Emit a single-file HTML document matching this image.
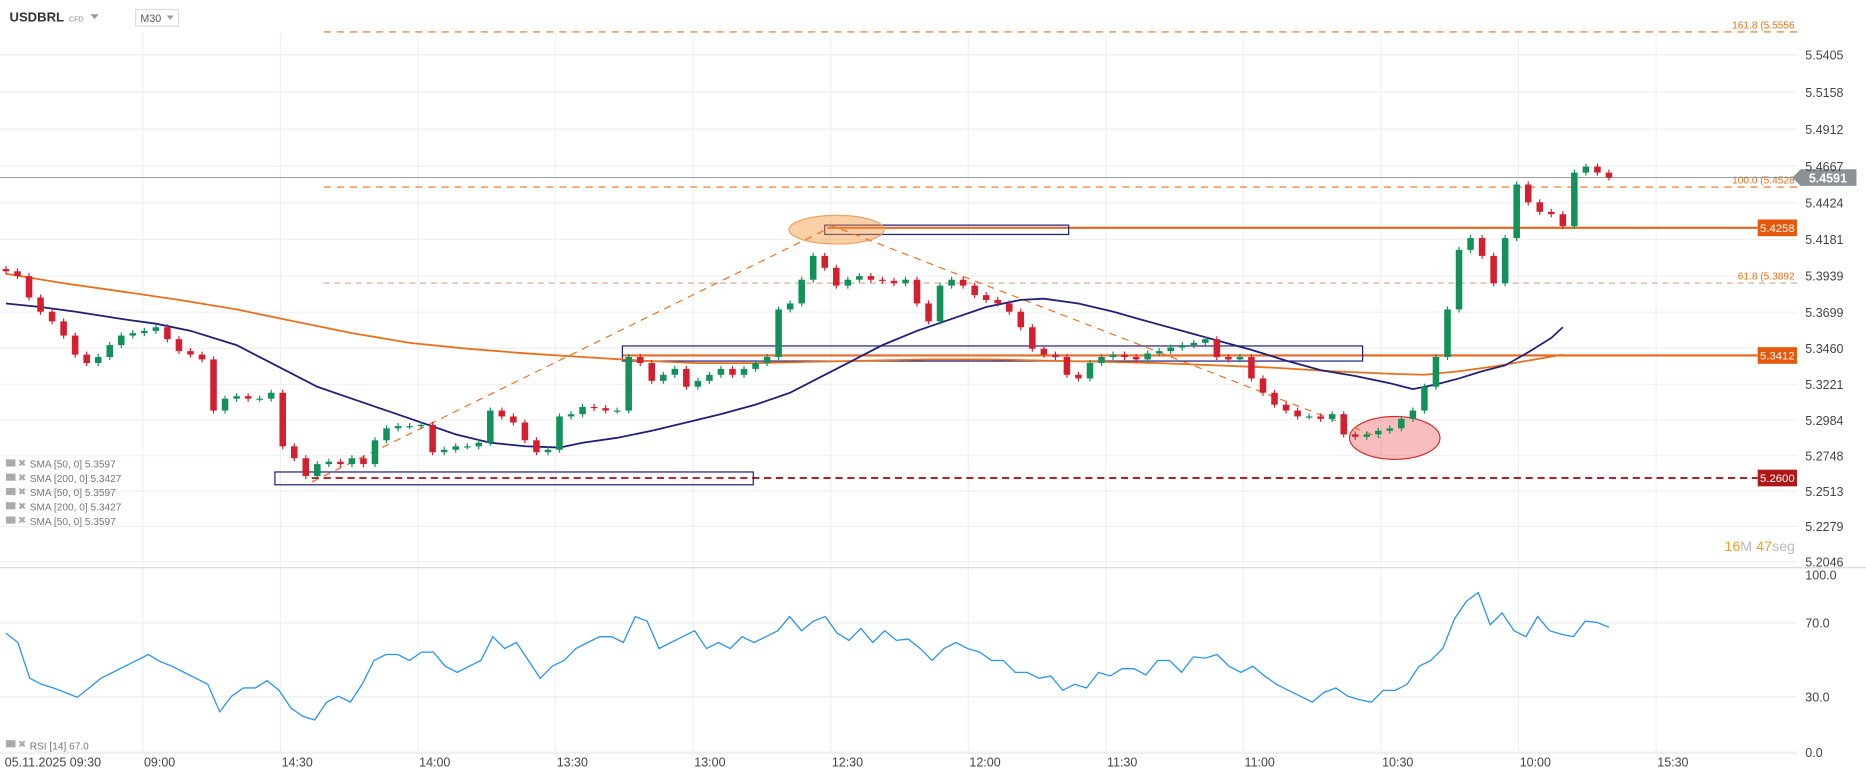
<!DOCTYPE html>
<html><head><meta charset="utf-8"><style>
html,body{margin:0;padding:0;background:#fff;overflow:hidden}
svg{display:block;font-family:"Liberation Sans",sans-serif}
</style></head><body>
<svg id="chart" width="1866" height="779" viewBox="0 0 1568 654.6" preserveAspectRatio="none" xmlns="http://www.w3.org/2000/svg">
<g id="grid"></g>
<g id="ann"></g>
<g id="sma"></g>
<g id="candles"></g>
<g id="rsi"></g>
<g id="axes"></g>
<g>
<text x="8" y="18" font-size="11" font-weight="bold" fill="#333">USDBRL</text>
<text x="58" y="18" font-size="6" fill="#888">CFD</text>
<path d="M76 12 L83 12 L79.5 16 Z" fill="#999"/>
<rect x="114" y="8" width="36" height="14" fill="#fff" stroke="#ddd"/>
<text x="118" y="18.5" font-size="9" fill="#555">M30</text>
<path d="M140 13 L146 13 L143 16.5 Z" fill="#999"/>
</g>
<g font-size="8.5" fill="#777">
<g><rect x="5" y="386" width="8" height="6" fill="#aaa"/><text x="15" y="392" fill="#aaa">✖</text><text x="25" y="393">SMA [50, 0] 5.3597</text></g>
<g><rect x="5" y="398" width="8" height="6" fill="#aaa"/><text x="15" y="404" fill="#aaa">✖</text><text x="25" y="405">SMA [200, 0] 5.3427</text></g>
<g><rect x="5" y="410" width="8" height="6" fill="#aaa"/><text x="15" y="416" fill="#aaa">✖</text><text x="25" y="417">SMA [50, 0] 5.3597</text></g>
<g><rect x="5" y="422" width="8" height="6" fill="#aaa"/><text x="15" y="428" fill="#aaa">✖</text><text x="25" y="429">SMA [200, 0] 5.3427</text></g>
<g><rect x="5" y="434" width="8" height="6" fill="#aaa"/><text x="15" y="440" fill="#aaa">✖</text><text x="25" y="441">SMA [50, 0] 5.3597</text></g>
<g><rect x="5" y="622" width="8" height="6" fill="#aaa"/><text x="15" y="628" fill="#aaa">✖</text><text x="25" y="630">RSI [14] 67.0</text></g>
</g>
<text x="1449" y="463" font-size="12"><tspan fill="#f39c1f">16</tspan><tspan fill="#bbb">M </tspan><tspan fill="#f39c1f">47</tspan><tspan fill="#bbb">seg</tspan></text>
</svg>
<script>
const closes=[5.3970,5.3938,5.3796,5.3702,5.3638,5.3544,5.3418,5.3362,5.3402,5.3481,5.3544,5.3560,5.3575,5.3599,5.3520,5.3441,5.3418,5.3386,5.3047,5.3126,5.3142,5.3126,5.3126,5.3165,5.2810,5.2731,5.2613,5.2692,5.2708,5.2692,5.2731,5.2692,5.2850,5.2929,5.2944,5.2944,5.2952,5.2771,5.2787,5.2810,5.2810,5.2834,5.3047,5.3008,5.2968,5.2850,5.2771,5.2787,5.3008,5.3023,5.3071,5.3063,5.3047,5.3047,5.3402,5.3362,5.3244,5.3284,5.3323,5.3205,5.3244,5.3284,5.3323,5.3284,5.3323,5.3362,5.3402,5.3717,5.3757,5.3914,5.4072,5.3993,5.3875,5.3914,5.3938,5.3914,5.3907,5.3891,5.3914,5.3757,5.3638,5.3875,5.3914,5.3875,5.3812,5.3780,5.3757,5.3702,5.3599,5.3457,5.3418,5.3402,5.3284,5.3260,5.3362,5.3402,5.3418,5.3402,5.3386,5.3425,5.3441,5.3465,5.3481,5.3496,5.3520,5.3402,5.3386,5.3402,5.3260,5.3165,5.3086,5.3047,5.3008,5.3008,5.2992,5.3023,5.2889,5.2873,5.2889,5.2913,5.2929,5.2992,5.3047,5.3205,5.3402,5.3717,5.4112,5.4190,5.4072,5.3891,5.4190,5.4545,5.4427,5.4364,5.4348,5.4269,5.4624,5.4664,5.4624,5.4591];
const firstOpen=5.3985;
const sma50Idx=[0,3,6,10,13,16,20,24,27,30,33,36,39,42,45,48,50,53,56,59,62,65,68,70,73,76,79,82,85,88,90,93,96,99,102,105,108,111,114,117,120,122,124,126,128,130,132,134,135];
const sma50=[5.3757,5.3733,5.3702,5.3654,5.3623,5.3575,5.3481,5.3323,5.3205,5.3126,5.3047,5.2968,5.2889,5.2834,5.2810,5.2802,5.2834,5.2866,5.2913,5.2968,5.3023,5.3086,5.3165,5.3244,5.3362,5.3481,5.3575,5.3654,5.3733,5.3780,5.3788,5.3757,5.3702,5.3638,5.3575,5.3512,5.3449,5.3378,5.3315,5.3276,5.3228,5.3189,5.3220,5.3260,5.3307,5.3347,5.3433,5.3528,5.3599];
const sma200Idx=[0,5,10,15,20,25,30,35,40,45,50,55,60,65,70,75,80,85,90,95,100,105,110,115,120,123,126,129,132,135];
const sma200=[5.3954,5.3891,5.3836,5.3780,5.3717,5.3638,5.3560,5.3496,5.3457,5.3426,5.3402,5.3378,5.3362,5.3362,5.3370,5.3378,5.3386,5.3386,5.3378,5.3370,5.3362,5.3347,5.3331,5.3307,5.3291,5.3284,5.3307,5.3339,5.3378,5.3418];
const rsiVals=[64.5,59.4,40,36.8,34.8,32.3,29.7,34.8,40,43.2,46.5,49.7,52.9,49,46.5,43.2,40,36.8,21.9,30.3,34.8,34.8,38.7,33.5,23.9,19.4,17.4,27.1,30.3,27.1,36.8,49.7,52.9,52.9,49.7,54.2,54.2,46.5,43.2,46.5,49.7,62.6,56.1,59.4,49.7,40,46.5,49.7,56.1,59.4,62.6,62.6,59.4,73.5,71,56.1,59.4,62.6,65.8,56.1,59.4,56.1,62.6,59.4,62.6,65.8,73.5,65.8,71,73.5,64.5,60.6,67.1,59.4,65.8,60.6,61.3,56.1,49.7,56.1,59.4,56.1,54.2,49.7,49.7,43.2,43.2,40,41.3,33.5,36.8,34.8,43.2,41.3,45.2,45.2,41.9,49.7,49.7,43.2,51.6,51,52.9,46.5,43.2,46.5,41.3,36.8,33.5,30.3,27.1,32.3,34.8,30.3,28.4,27.1,33.5,33.5,36.8,46.5,49.7,56.1,72.3,81.9,86.5,69,75.5,65.8,62.6,73.5,65.8,63.9,62.6,71,70.3,67.7];
const priceTicks=["5.5405","5.5158","5.4912","5.4667","5.4424","5.4181","5.3939","5.3699","5.3460","5.3221","5.2984","5.2748","5.2513","5.2279","5.2046"];
const rsiTicks=[100,70,30,0];
const timeLabels=["09:00","14:30","14:00","13:30","13:00","12:30","12:00","11:30","11:00","10:30","10:00","15:30"];

const NS="http://www.w3.org/2000/svg";
function mk(tag,attrs,parent){const e=document.createElementNS(NS,tag);for(const k in attrs)e.setAttribute(k,attrs[k]);parent.appendChild(e);return e;}
const X0=5,X1=1352;
const xi=i=>X0+i*(X1-X0)/(closes.length-1);
const yp=p=>46+(5.5405-p)*1268;
const yr=r=>632-r*1.55;
const G=document.getElementById('grid'),A=document.getElementById('ann'),S=document.getElementById('sma'),C=document.getElementById('candles'),R=document.getElementById('rsi'),AX=document.getElementById('axes');

priceTicks.forEach(t=>{const y=yp(parseFloat(t));
 const l=mk('line',{x1:0,x2:1510,y1:y,y2:y,stroke:'#efefef'},G);
 
 
 const tx=mk('text',{x:1517,y:y+4,'font-size':10.5,fill:'#444'},AX);tx.textContent=t;
 
 
});
rsiTicks.forEach(r=>{const y=yr(r);
 if(r<100){const l=mk('line',{x1:0,x2:1510,y1:y,y2:y,stroke:'#efefef'},G);
 
 }
 const tx=mk('text',{x:1517,y:r==100?487:y+4,'font-size':10.5,fill:'#444'},AX);tx.textContent=r.toFixed(1);
 
 
});
timeLabels.forEach((t,i)=>{const x=120+i*115.6;
 const l=mk('line',{x1:x,x2:x,y1:28,y2:632,stroke:'#f0f0f0'},G);
 
 
 const tx=mk('text',{x:x+1,y:644,'font-size':10.5,fill:'#444'},AX);tx.textContent=t;
 
 
});
{const tx=mk('text',{x:4,y:644,'font-size':10.5,fill:'#444'},AX);tx.textContent="05.11.2025   09:30";
 
 
 tx.setAttribute('xml:space','preserve');}
{const l=mk('line',{x1:0,x2:1568,y1:477,y2:477,stroke:'#ddd','stroke-width':1.2},AX);
 
 
 const l2=mk('line',{x1:0,x2:1510,y1:633,y2:633,stroke:'#eee'},AX);
 
 }

function hline(p,x1,x2,stroke,w,dash,name){const y=yp(p);const l=mk('line',{x1:x1,x2:x2,y1:y,y2:y,stroke:stroke,'stroke-width':w},A);if(dash)l.setAttribute('stroke-dasharray',dash);
 
 return y;}
function fibLabel(txt,y,name){const t=mk('text',{x:1508,y:y-3,'font-size':8.5,fill:'#e8701a','text-anchor':'end'},A);t.textContent=txt;
 
 }
let y;
y=hline(5.5556,272,1510,'#e8701a',1,'6,5','fib-161-line');fibLabel('161.8 (5.5556',y,'fib-161-label');
y=hline(5.4528,272,1510,'#e8701a',1,'6,5','fib-100-line');fibLabel('100.0 (5.4528',y,'fib-100-label');
y=hline(5.3892,272,1510,'#c98a6a',0.8,'5,4','fib-618-line');fibLabel('61.8 (5.3892',y,'fib-618-label');
function box(p,txt,fill,name){const y=yp(p);const r=mk('rect',{x:1477,y:y-7,width:33,height:14,fill:fill},A);
 
 
 const t=mk('text',{x:1493.5,y:y+3.5,'font-size':9.5,fill:'#fff','text-anchor':'middle'},A);t.textContent=txt;
 
 }
hline(5.4258,695,1477,'#e8641a',1.8,null,'resistance-line-54258');box(5.4258,'5.4258','#e8580c','resistance-label-54258');
hline(5.3412,523,1477,'#e8641a',1.8,null,'support-line-53412');box(5.3412,'5.3412','#e8580c','support-label-53412');
hline(5.2600,262,1477,'#b3202a',1.6,'6,4','support-line-52600');box(5.2600,'5.2600','#b01818','support-label-52600');
{const yc=yp(5.4591);const l=mk('line',{x1:0,x2:1512,y1:yc,y2:yc,stroke:'#8a9296','stroke-width':0.8},A);
 
 
 const p=mk('path',{d:`M1506 ${yc} L1513 ${yc-7} L1560 ${yc-7} L1560 ${yc+7} L1513 ${yc+7} Z`,fill:'#8a9296'},A);
 
 
 const t=mk('text',{x:1536,y:yc+4,'font-size':10.5,'font-weight':'bold',fill:'#fff','text-anchor':'middle'},A);t.textContent='5.4591';
 
 }
[[693,898,5.4276,5.4214,'zone-box-top'],[523,1145,5.3475,5.3375,'zone-box-middle'],[231,633,5.2640,5.2555,'zone-box-bottom']].forEach(b=>{
 const r=mk('rect',{x:b[0],y:yp(b[2]),width:b[1]-b[0],height:yp(b[3])-yp(b[2]),fill:'rgba(200,200,230,0.08)',stroke:'#1e1e78','stroke-width':1},A);
 
 });
{const e=mk('ellipse',{cx:703,cy:193,rx:40,ry:12,fill:'rgba(245,150,60,0.45)',stroke:'#f0a060'},A);
 
 
 const e2=mk('ellipse',{cx:1172,cy:368,rx:38,ry:18,fill:'rgba(240,110,110,0.45)',stroke:'#d03030'},A);
 
 
 const z=mk('polyline',{points:`262,405 700,190 1160,368`,fill:'none',stroke:'#f07020','stroke-width':1,'stroke-dasharray':'6,5'},A);
 
 }

function smaPath(idx,vals,color,w,name){const d=idx.map((k,i)=>(i?'L':'M')+xi(k).toFixed(1)+' '+yp(vals[i]).toFixed(1)).join(' ');
 const p=mk('path',{d:d,fill:'none',stroke:color,'stroke-width':w},S);
 
 }
smaPath(sma200Idx,sma200,'#e8701a',1.5,'sma200-line');
smaPath(sma50Idx,sma50,'#1f1f7a',1.5,'sma50-line');

const bw=5.5;
closes.forEach((c,i)=>{const o=i?closes[i-1]:firstOpen;const up=c>=o;const col=up?'#13915a':'#d4202e';
 const hi=Math.max(o,c)+0.002,lo=Math.min(o,c)-0.002;const x=xi(i);
 const w=mk('line',{x1:x,x2:x,y1:yp(hi),y2:yp(lo),stroke:col,'stroke-width':1},C);
 
 
 const top=yp(Math.max(o,c)),bot=yp(Math.min(o,c));
 const r=mk('rect',{x:x-bw/2,y:top,width:bw,height:Math.max(1,bot-top),fill:col},C);
 
 
});

{const d=rsiVals.map((v,i)=>(i?'L':'M')+(X0+i*(X1-X0)/(rsiVals.length-1)).toFixed(1)+' '+yr(v).toFixed(1)).join(' ');
 const p=mk('path',{d:d,fill:'none',stroke:'#2b95f0','stroke-width':1.1},R);
 
 }
</script>
</body></html>
